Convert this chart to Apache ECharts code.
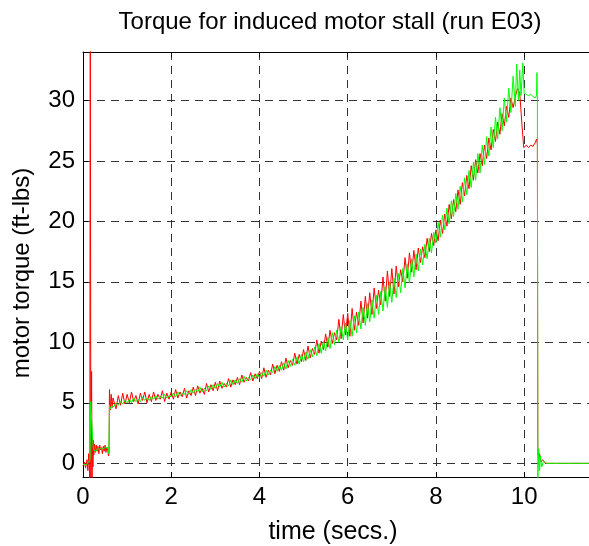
<!DOCTYPE html>
<html><head><meta charset="utf-8">
<script src="https://cdn.jsdelivr.net/npm/echarts@6/dist/echarts.min.js"></script>
<style>html,body{margin:0;padding:0;background:#fff}#c{width:589px;height:546px}</style>
</head><body><div id="c"></div>
<script>
const titleText = 'Torque for induced motor stall (run E03)';
const xName = 'time (secs.)';
const yName = 'motor torque (ft-lbs)';
const xTicks = [0, 2, 4, 6, 8, 10];
const yTicks = [0, 5, 10, 15, 20, 25, 30];

// shared dense sampling grid (s) for the noisy ramp section
const rampTime = [0.70, 0.75, 0.80, 0.85, 0.90, 0.95,
  1.00, 1.05, 1.10, 1.15, 1.20, 1.25, 1.30, 1.35, 1.40, 1.45,
  1.50, 1.55, 1.60, 1.65, 1.70, 1.75, 1.80, 1.85, 1.90, 1.95,
  2.00, 2.05, 2.10, 2.15, 2.20, 2.25, 2.30, 2.35, 2.40, 2.45,
  2.50, 2.55, 2.60, 2.65, 2.70, 2.75, 2.80, 2.85, 2.90, 2.95,
  3.00, 3.05, 3.10, 3.15, 3.20, 3.25, 3.30, 3.35, 3.40, 3.45,
  3.50, 3.55, 3.60, 3.65, 3.70, 3.75, 3.80, 3.85, 3.90, 3.95,
  4.00, 4.05, 4.10, 4.15, 4.20, 4.25, 4.30, 4.35, 4.40, 4.45,
  4.50, 4.55, 4.60, 4.65, 4.70, 4.75, 4.80, 4.85, 4.90, 4.95,
  5.00, 5.05, 5.10, 5.15, 5.20, 5.25, 5.30, 5.35, 5.40, 5.45,
  5.50, 5.55, 5.60, 5.65, 5.70, 5.75, 5.80, 5.85, 5.90, 5.95,
  6.00, 6.05, 6.10, 6.15, 6.20, 6.25, 6.30, 6.35, 6.40, 6.45,
  6.50, 6.55, 6.60, 6.65, 6.70, 6.75, 6.80, 6.85, 6.90, 6.95,
  7.00, 7.05, 7.10, 7.15, 7.20, 7.25, 7.30, 7.35, 7.40, 7.45,
  7.50, 7.55, 7.60, 7.65, 7.70, 7.75, 7.80, 7.85, 7.90, 7.95,
  8.00, 8.05, 8.10, 8.15, 8.20, 8.25, 8.30, 8.35, 8.40, 8.45,
  8.50, 8.55, 8.60, 8.65, 8.70, 8.75, 8.80, 8.85, 8.90, 8.95,
  9.00, 9.05, 9.10, 9.15, 9.20, 9.25, 9.30, 9.35, 9.40, 9.45,
  9.50, 9.55, 9.60, 9.65, 9.70, 9.75, 9.80];

const redStartTime = [0, 0.03, 0.06, 0.09, 0.11, 0.13, 0.155, 0.165, 0.178, 0.195, 0.205, 0.215, 0.225, 0.235, 0.245,
  0.26, 0.28, 0.30, 0.32, 0.34, 0.36, 0.38, 0.40, 0.42, 0.44, 0.46, 0.48, 0.50, 0.52, 0.54, 0.56, 0.58, 0.59,
  0.60, 0.62, 0.64, 0.66, 0.68];
const redStartTorque = [-0.2, 0.1, -0.4, 0.3, -0.6, 0.8, -1.5, 40, -1.5, 7.6, -1.5, 2.3, -0.3, 1.9, 0.7,
  1.6, 0.9, 1.5, 1.0, 1.4, 0.8, 1.5, 1.1, 1.3, 0.8, 1.4, 1.0, 1.5, 0.9, 1.3, 1.1, 0.6, 0.9,
  6.1, 4.4, 5.7, 4.6, 5.4];
const redRampTorque = [5.5, 4.5, 5.6, 4.8, 5.8, 4.9,
  5.7, 5.0, 5.9, 5.1, 5.6, 4.9, 5.8, 5.2, 5.9, 5.0,
  5.7, 5.1, 5.9, 5.2, 5.7, 5.3, 6.0, 5.1, 5.8, 5.3,
  5.9, 5.3, 6.1, 5.4, 5.9, 5.5, 6.2, 5.4, 6.0, 5.6,
  6.3, 5.6, 6.4, 5.8, 6.2, 5.7, 6.6, 5.9, 6.5, 6.0,
  6.7, 6.0, 6.8, 6.2, 6.6, 6.3, 7.0, 6.3, 6.9, 6.5,
  7.1, 6.5, 7.3, 6.7, 7.1, 6.8, 7.5, 6.8, 7.4, 7.0,
  7.6, 7.0, 7.9, 7.1, 7.7, 7.3, 8.2, 7.4, 8.1, 7.6,
  8.4, 7.7, 8.7, 7.9, 8.5, 8.1, 9.1, 8.2, 9.0, 8.4,
  9.4, 8.5, 9.7, 8.7, 9.5, 9.0, 10.2, 9.1, 10.1, 9.4,
  10.7, 9.6, 11.0, 9.9, 10.8, 10.2, 11.9, 10.3, 12.3, 10.6,
  12.4, 10.5, 12.8, 11.0, 12.5, 11.4, 13.4, 11.6, 13.8, 12.0,
  14.1, 12.3, 14.5, 12.8, 14.3, 13.1, 15.4, 13.4, 15.9, 13.8,
  16.1, 14.0, 16.3, 14.6, 16.0, 15.0, 17.0, 15.3, 17.4, 15.8,
  17.6, 16.0, 17.8, 16.6, 17.9, 17.0, 18.6, 17.5, 19.0, 18.0,
  19.3, 18.4, 20.1, 19.0, 20.6, 19.6, 21.4, 20.2, 21.8, 20.8,
  22.6, 21.4, 23.2, 22.1, 23.8, 22.7, 24.6, 23.4, 25.1, 24.0,
  25.6, 24.6, 26.3, 25.2, 26.9, 25.9, 27.6, 26.6, 28.2, 27.2,
  28.9, 27.9, 29.5, 28.6, 30.2, 29.4, 30.3];
const redEndTime = [9.85, 9.9, 9.95, 9.99, 10.05, 10.1, 10.15, 10.2, 10.25, 10.28, 10.30,
  10.31, 10.33, 10.35, 10.38, 10.42, 10.48, 11.47];
const redEndTorque = [31.0, 30.6, 28.0, 26.1, 26.3, 26.1, 26.3, 26.2, 26.5, 26.8, 26.4,
  1.0, 0.2, 0.8, 0.1, 0.3, 0, 0];

const greenStartTime = [0, 0.04, 0.08, 0.12, 0.16, 0.175, 0.19, 0.21, 0.225, 0.24, 0.27, 0.30, 0.33, 0.36, 0.39,
  0.42, 0.45, 0.48, 0.51, 0.54, 0.57, 0.585, 0.60, 0.62, 0.65, 0.68];
const greenStartTorque = [-0.1, 0, -0.1, 0, 0.3, 5.1, 5.2, 5.1, 1.5, 1.1, 1.2, 1.0, 1.2, 1.1, 1.2,
  1.1, 1.2, 1.1, 1.3, 1.2, 1.3, 0.8, 4.8, 4.5, 4.7, 4.6];
const greenRampTorque = [4.7, 5.0, 4.8, 5.1, 4.9, 5.2,
  5.0, 5.3, 5.0, 5.4, 5.1, 5.3, 5.1, 5.5, 5.2, 5.4,
  5.2, 5.5, 5.3, 5.6, 5.3, 5.5, 5.4, 5.7, 5.4, 5.6,
  5.5, 5.8, 5.5, 5.9, 5.6, 5.8, 5.7, 6.0, 5.7, 6.1,
  5.8, 6.1, 5.9, 6.3, 5.9, 6.2, 6.0, 6.4, 6.1, 6.5,
  6.2, 6.6, 6.3, 6.7, 6.3, 6.6, 6.4, 6.9, 6.5, 6.9,
  6.6, 7.0, 6.7, 7.2, 6.8, 7.1, 6.9, 7.3, 7.0, 7.4,
  7.1, 7.5, 7.2, 7.7, 7.3, 7.7, 7.5, 8.0, 7.6, 8.1,
  7.7, 8.3, 7.8, 8.5, 8.0, 8.6, 8.1, 8.8, 8.2, 9.0,
  8.4, 9.2, 8.6, 9.4, 8.8, 9.6, 8.9, 9.9, 9.1, 10.1,
  9.3, 10.4, 9.5, 10.8, 9.8, 11.0, 10.0, 11.3, 10.2, 11.6,
  10.2, 11.8, 10.5, 12.2, 10.8, 12.5, 11.1, 12.9, 11.4, 13.2,
  11.7, 13.5, 12.0, 13.9, 12.3, 14.2, 12.6, 14.6, 12.9, 15.0,
  13.3, 15.3, 13.7, 15.7, 14.1, 16.1, 14.5, 16.5, 14.9, 16.9,
  15.4, 17.3, 15.9, 17.7, 16.4, 18.1, 16.9, 18.6, 17.4, 19.1,
  18.2, 19.9, 18.7, 20.5, 19.3, 21.1, 19.8, 21.7, 20.4, 22.3,
  21.0, 22.9, 21.6, 23.6, 22.2, 24.2, 22.8, 24.9, 23.4, 25.6,
  24.0, 26.3, 24.7, 27.0, 25.4, 27.8, 26.1, 28.6, 26.8, 29.4,
  27.5, 30.2, 28.2, 31.0, 29.0, 32.0, 29.5];
const greenEndTime = [9.83, 9.87, 9.9, 9.93, 9.97, 10.0, 10.05, 10.1, 10.15, 10.2, 10.25, 10.28, 10.29, 10.30,
  10.31, 10.33, 10.35, 10.37, 10.40, 10.44, 10.5, 11.47];
const greenEndTorque = [33.0, 30.0, 32.5, 30.4, 33.1, 30.6, 30.5, 30.4, 30.5, 30.3, 30.2, 30.4, 32.3, 30.0,
  -1.5, 1.2, -0.6, 0.6, -0.3, 0.2, 0, 0];

function pairs(t, v) { return t.map((x, i) => [x, v[i]]); }
const redData = pairs(redStartTime, redStartTorque)
  .concat(pairs(rampTime, redRampTorque), pairs(redEndTime, redEndTorque));
const greenData = pairs(greenStartTime, greenStartTorque)
  .concat(pairs(rampTime, greenRampTorque), pairs(greenEndTime, greenEndTorque));

const FONT = '"Liberation Sans", Arial, Helvetica, sans-serif';
const chart = echarts.init(document.getElementById('c'), null, { renderer: 'canvas' });
const gridLine = { show: true, lineStyle: { color: '#333', width: 1, type: [8, 6] } };
chart.setOption({
  animation: false,
  backgroundColor: '#fff',
  grid: { left: 83, right: 0, top: 52, bottom: 69, containLabel: false },
  xAxis: [{
    type: 'value', min: 0, max: 11.47, interval: 2, position: 'bottom',
    axisLine: { show: true, onZero: false, lineStyle: { color: '#000', width: 1 } },
    axisTick: { show: true, inside: true, length: 5, lineStyle: { color: '#000' } },
    axisLabel: { show: true, color: '#000', fontSize: 24, fontFamily: FONT, margin: 8, showMaxLabel: false,
      formatter: v => (xTicks.indexOf(v) >= 0 ? String(v) : '') },
    splitLine: gridLine
  }, {
    type: 'value', min: 0, max: 11.47, interval: 2, position: 'top',
    axisLine: { show: true, onZero: false, lineStyle: { color: '#000', width: 1 } },
    axisTick: { show: true, inside: true, length: 5, lineStyle: { color: '#000' } },
    axisLabel: { show: false }, splitLine: { show: false }
  }],
  yAxis: [{
    type: 'value', min: -1.13, max: 34, splitNumber: 7,
    axisLine: { show: true, onZero: false, lineStyle: { color: '#000', width: 1 } },
    axisTick: { show: true, inside: true, length: 5, lineStyle: { color: '#000' } },
    axisLabel: { show: true, color: '#000', fontSize: 24, fontFamily: FONT, margin: 8,
      showMinLabel: false, showMaxLabel: false,
      formatter: v => (yTicks.indexOf(Math.round(v * 1000) / 1000) >= 0 ? String(Math.round(v)) : '') },
    splitLine: gridLine
  }],
  series: [
    { type: 'line', name: 'red', data: redData, showSymbol: false, symbol: 'none',
      lineStyle: { color: '#ff0000', width: 1 }, clip: true, z: 2 },
    { type: 'line', name: 'green', data: greenData, showSymbol: false, symbol: 'none',
      lineStyle: { color: '#00ff00', width: 1 }, clip: true, z: 3 }
  ],
  graphic: [
    { type: 'text', x: 330, y: 22, style: { text: titleText, fontSize: 24, fontFamily: FONT, fill: '#000', align: 'center', verticalAlign: 'middle' } },
    { type: 'text', x: 333, y: 532, style: { text: xName, fontSize: 25, fontFamily: FONT, fill: '#000', align: 'center', verticalAlign: 'middle' } },
    { type: 'text', x: 22, y: 273, rotation: Math.PI / 2, style: { text: yName, fontSize: 24, fontFamily: FONT, fill: '#000', align: 'center', verticalAlign: 'middle' } }
  ]
});
</script>
</body></html>
